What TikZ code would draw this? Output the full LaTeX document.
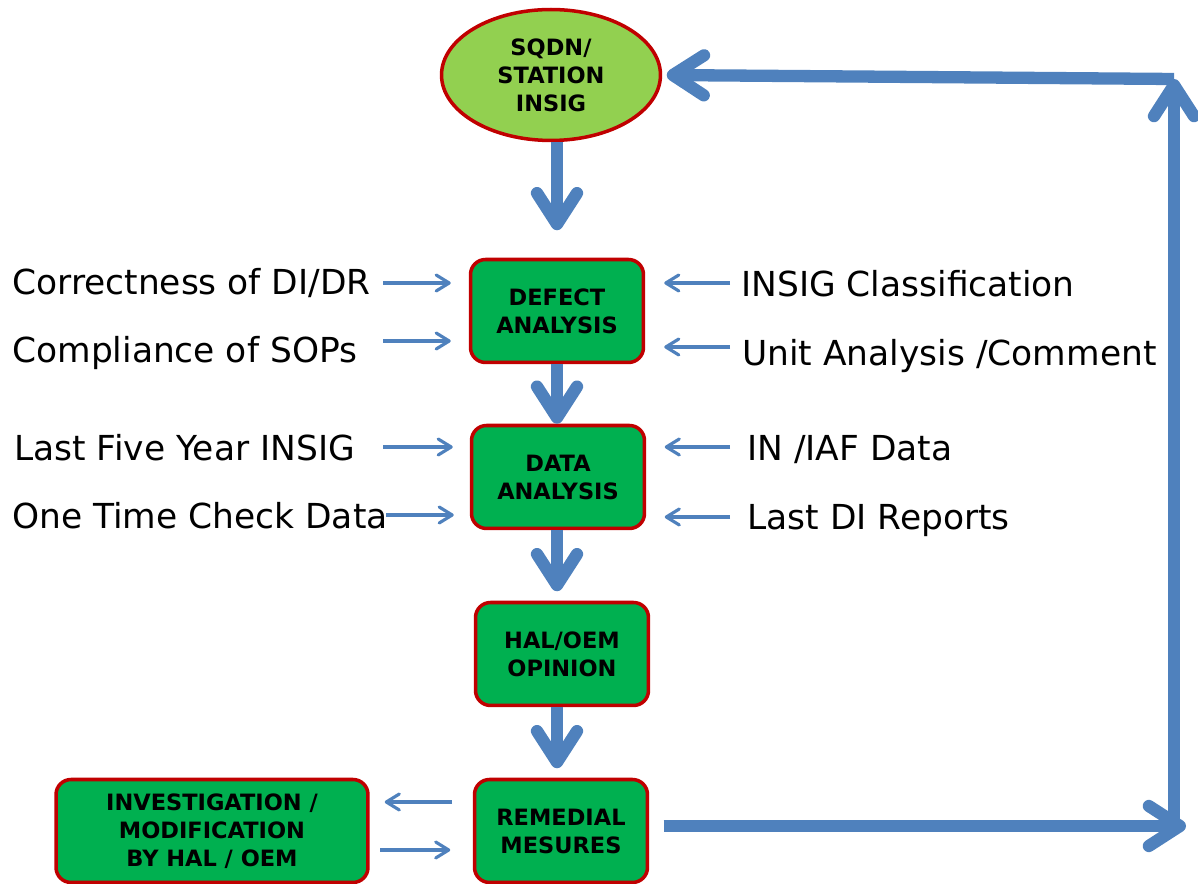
\documentclass[tikz,border=0pt]{standalone}
\usepackage{fontspec}
\setmainfont{DejaVu Sans}
\usepackage{tikz}
\usetikzlibrary{arrows.meta, shapes.geometric, positioning}
\definecolor{flowblue}{RGB}{79,129,189}
\definecolor{boxgreen}{RGB}{0,176,80}
\definecolor{topgreen}{RGB}{146,208,80}
\definecolor{edgered}{RGB}{192,0,0}

\tikzset{
  stage/.style={rectangle, rounded corners=0.3cm, draw=edgered, line width=2pt,
    fill=boxgreen, align=center, inner sep=0pt,
    font=\fontsize{12.8}{15.9}\selectfont\bfseries,
    minimum width=3.46cm, minimum height=2.06cm},
  source/.style={ellipse, draw=edgered, line width=2pt, fill=topgreen,
    align=center, inner sep=0pt,
    font=\fontsize{12.8}{15.9}\selectfont\bfseries,
    minimum width=4.38cm, minimum height=2.62cm},
  input/.style={font=\fontsize{19.6}{24}\selectfont, inner sep=0pt},
  bigarrow/.style={draw=flowblue, line width=7pt,
    -{Straight Barb[length=0.62cm, width=0.8cm, round]}},
  smallarrow/.style={draw=flowblue, line width=1.8pt,
    -{Straight Barb[length=0.26cm, width=0.32cm, round]}}
}

\begin{document}
\begin{tikzpicture}[x=0.02cm, y=-0.02cm]
  \useasboundingbox (0,0) rectangle (1198,884);

  % Flow boxes
  \node[source] (sqdn) at (551,75) {SQDN/\\STATION\\INSIG};
  \node[stage] (defect) at (557,311) {DEFECT\\ANALYSIS};
  \node[stage] (data) at (558,477) {DATA\\ANALYSIS};
  \node[stage] (halopin) at (562,654) {HAL/OEM\\OPINION};
  \node[stage] (remedial) at (561,831) {REMEDIAL\\MESURES};
  \node[stage, minimum width=6.24cm] (invest) at (212,831)
    {INVESTIGATION /\\MODIFICATION\\BY HAL / OEM};

  % Inputs
  \node[input, anchor=base west] (corr) at (12,295) {Correctness of DI/DR};
  \node[input, anchor=base west] (comp) at (12,363) {Compliance of SOPs};
  \node[input, anchor=base west] (five) at (14,461) {Last Five Year INSIG};
  \node[input, anchor=base west] (otc) at (12,529) {One Time Check Data};
  \node[input, anchor=base west] (class) at (741,297) {INSIG Classification};
  \node[input, anchor=base west] (unit) at (742,366) {Unit Analysis /Comment};
  \node[input, anchor=base west] (iaf) at (747,461) {IN /IAF Data};
  \node[input, anchor=base west] (lastdi) at (747,530) {Last DI Reports};

  \coordinate (inA) at (383,283);
  \coordinate (inB) at (383,341);
  \coordinate (inC) at (383,447);
  \coordinate (inD) at (386,515);
  \coordinate (outA) at (730,283);
  \coordinate (outB) at (730,347);
  \coordinate (outC) at (730,447);
  \coordinate (outD) at (730,517);
  \coordinate (toinv) at (452,802);
  \coordinate (fromrem) at (380,850);
  \coordinate (loopR) at (1186,826);
  \coordinate (loopT) at (1174,79);

  % Small arrows
  \draw[smallarrow, shorten >=0.36cm] (inA) -- (inA -| defect.west);
  \draw[smallarrow, shorten >=0.36cm] (inB) -- (inB -| defect.west);
  \draw[smallarrow, shorten >=0.34cm] (inC) -- (inC -| data.west);
  \draw[smallarrow, shorten >=0.32cm] (inD) -- (inD -| data.west);
  \draw[smallarrow, shorten >=0.38cm] (outA) -- (outA -| defect.east);
  \draw[smallarrow, shorten >=0.38cm] (outB) -- (outB -| defect.east);
  \draw[smallarrow, shorten >=0.37cm] (outC) -- (outC -| data.east);
  \draw[smallarrow, shorten >=0.37cm] (outD) -- (outD -| data.east);
  \draw[smallarrow, shorten >=0.3cm] (toinv) -- (toinv -| invest.east);
  \draw[smallarrow, shorten >=0.45cm] (fromrem) -- (fromrem -| remedial.west);

  % Main flow
  \draw[bigarrow, shorten >=0.55cm] (sqdn.south -| defect.north) -- (defect.north);
  \draw[bigarrow] (defect.south) -- (defect.south |- data.north);
  \draw[bigarrow, shorten >=0.19cm] (defect.south |- data.south) -- (defect.south |- halopin.north);
  \draw[bigarrow, shorten >=0.19cm] (defect.south |- halopin.south) -- (defect.south |- remedial.north);

  % Feedback loop
  \draw[bigarrow, shorten <=0.29cm] (remedial.east |- loopR) -- (loopR);
  \draw[bigarrow] (loopT |- loopR) -- (loopT);
  \draw[bigarrow, shorten >=0.09cm] (loopT) -- (sqdn.east);
\end{tikzpicture}
\end{document}
